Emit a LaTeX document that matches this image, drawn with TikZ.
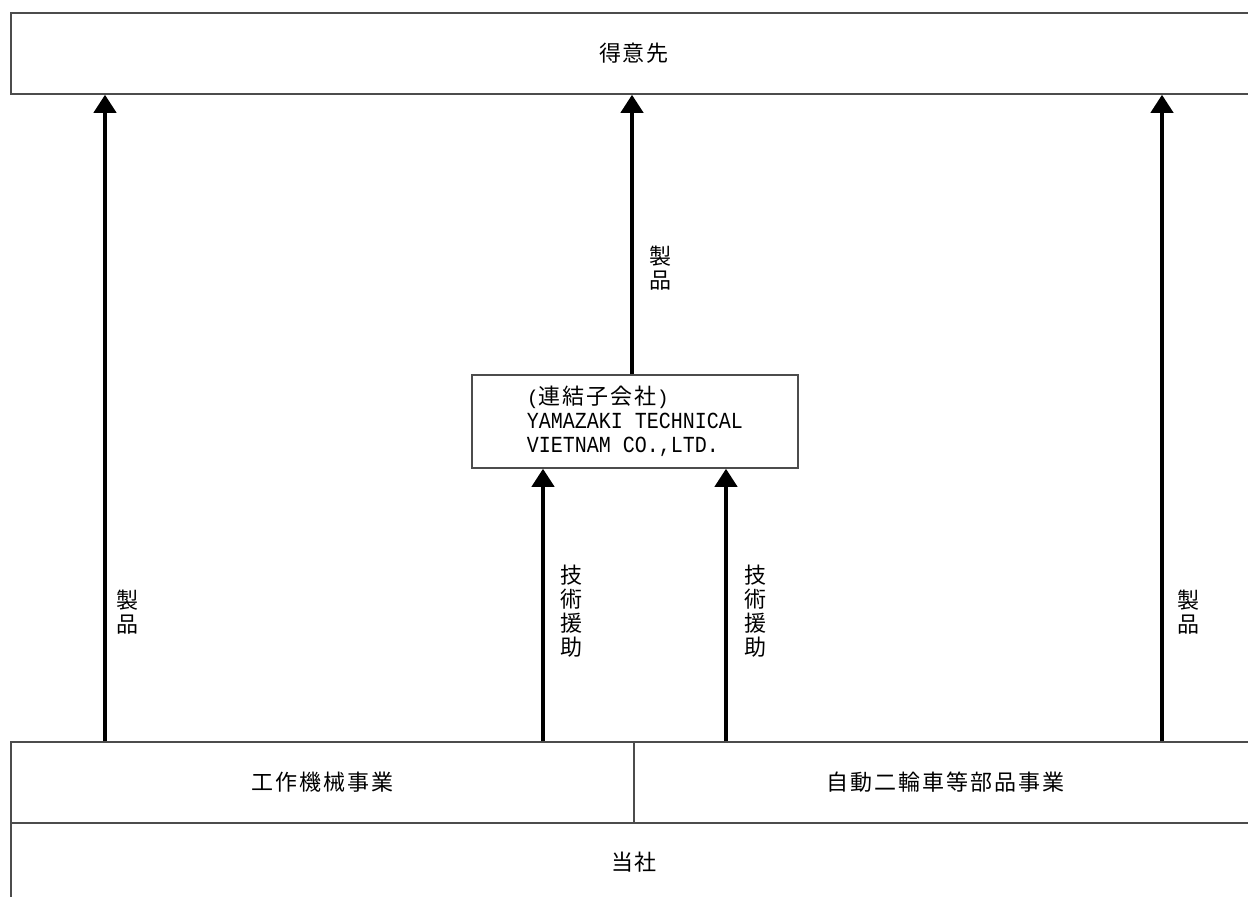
\documentclass[tikz,border=0pt]{standalone}
\usepackage{fontspec}
\newfontfamily\cjk[LetterSpace=9]{Noto Sans CJK JP}
\newfontfamily\monof{Liberation Mono}
\usetikzlibrary{arrows.meta}
\tikzset{
  box/.style={draw=black!70, line width=1.5pt, rectangle, inner sep=0pt,
    font=\cjk\fontsize{22}{24}\selectfont},
  arr/.style={line width=4pt, -{Triangle[width=22pt,length=18pt]}},
  vlabel/.style={inner sep=0pt, align=center, font=\cjk\fontsize{22}{24}\selectfont}
}
\begin{document}
\begin{tikzpicture}[x=1pt,y=-1pt]
\path[use as bounding box] (0,0) rectangle (1248,897);
\clip (0,0) rectangle (1248,897);
\fill[white] (0,0) rectangle (1248,897);
\node[box, minimum width=1246pt, minimum height=81pt] (cust) at (634,53.5) {得意先};
\node[box, minimum width=623pt, minimum height=81pt] (kikai) at (322.5,782.5) {工作機械事業};
\node[box, minimum width=623pt, minimum height=81pt] (jido) at (945.5,782.5) {自動二輪車等部品事業};
\node[box, minimum width=1246pt, minimum height=78pt] (tosha) at (634,862) {当社};
\node[box, minimum width=326pt, minimum height=93pt, align=left] (vn) at (635,421.5)
  {{\monof\fontsize{20}{24}\selectfont(}連結子会社{\monof\fontsize{20}{24}\selectfont)}\\
   {\monof\fontsize{20}{24}\selectfont\scalebox{1}[1.15]{YAMAZAKI TECHNICAL}}\\
   {\monof\fontsize{20}{24}\selectfont\scalebox{1}[1.15]{VIETNAM CO.,LTD.}}};
\coordinate (xa) at (105,0);
\coordinate (xb) at (632,0);
\coordinate (xc) at (1162,0);
\coordinate (xd) at (543,0);
\coordinate (xe) at (726,0);
\draw[arr] (kikai.north -| xa) -- (cust.south -| xa);
\draw[arr] (vn.north -| xb) -- (cust.south -| xb);
\draw[arr] (jido.north -| xc) -- (cust.south -| xc);
\draw[arr] (kikai.north -| xd) -- (vn.south -| xd);
\draw[arr] (jido.north -| xe) -- (vn.south -| xe);
\node[vlabel] (l1) at (127,612) {製\\品};
\node[vlabel] (l2) at (660,268) {製\\品};
\node[vlabel] (l3) at (1188,612) {製\\品};
\node[vlabel] (l4) at (571,611) {技\\術\\援\\助};
\node[vlabel] (l5) at (755,611) {技\\術\\援\\助};
\end{tikzpicture}
\end{document}
